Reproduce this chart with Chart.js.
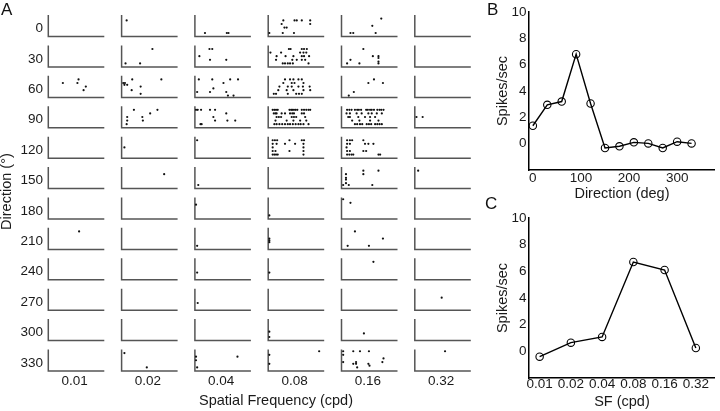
<!DOCTYPE html>
<html>
<head>
<meta charset="utf-8">
<script src="https://cdn.jsdelivr.net/npm/chart.js@4.4.1/dist/chart.umd.min.js"></script>
<style>
  body { margin: 0; background: #fff; width: 720px; height: 411px; position: relative; overflow: hidden;
         font-family: "Liberation Sans", Arial, sans-serif; }
  canvas { position: absolute; }
  .panel { position: absolute; font-size: 17px; line-height: 1; color: #111; }
</style>
</head>
<body>
<canvas id="grid" width="510" height="411" style="left:0;top:0"></canvas>
<canvas id="dir" width="240" height="205" style="left:480px;top:0"></canvas>
<canvas id="sf" width="240" height="206" style="left:480px;top:205px"></canvas>
<div class="panel" style="left:1px;top:1px">A</div>
<div class="panel" style="left:487px;top:1px">B</div>
<div class="panel" style="left:485px;top:195px">C</div>
<script>
// directions (deg) and spatial frequencies (cpd)
const directions = [0, 30, 60, 90, 120, 150, 180, 210, 240, 270, 300, 330];
const sfLabels = ['0.01', '0.02', '0.04', '0.08', '0.16', '0.32'];

// tuning curves (spikes/sec)
const dirRate = [1.36, 2.95, 3.2, 6.8, 3.05, -0.33, -0.2, 0.1, 0.02, -0.33, 0.15, 0.02];
const sfRate = [-0.4, 0.65, 1.08, 6.7, 6.1, 0.25];

// rasters: one list per SF, each spike = [time (ms), trial]
const spikes0 = [[], [[90,9]], [[180,2],[570,2],[600,2]],
  [[20,2],[270,9],[240,7],[290,5],[330,5],[260,2],[460,2],[470,9],[510,9],[600,9],[750,9],[750,7]],
  [[160,2],[210,2],[710,10],[550,6],[610,2]], []];
const spikes30 = [[], [[70,2],[330,2],[550,10]], [[80,6],[260,10],[310,10],[270,4],[560,4]],
  [[40,8],[150,6],[140,4],[230,8],[310,6],[370,10],[400,10],[450,6],[260,2],[300,2],[350,2],[390,2],[440,2],
   [600,10],[640,10],[690,10],[570,8],[630,8],[680,8],[600,6],[640,6],[730,6],[600,4],[660,4],[720,2],[510,4],[430,4]],
  [[100,2],[160,4],[320,2],[390,10],[560,6],[660,6],[660,5],[660,3],[660,2]], []];
const spikes60 = [[[260,8],[520,8],[540,10],[670,6],[630,4]],
  [[30,8],[60,8],[50,7],[100,7],[190,10],[180,4],[340,6],[340,2],[710,10]],
  [[70,10],[40,3],[310,10],[330,5],[270,3],[510,8],[630,10],[770,10],[560,3],[590,1],[690,1]],
  [[300,10],[390,10],[450,10],[540,10],[600,10],[270,8],[420,8],[470,8],[630,8],[200,6],[350,6],[420,6],[540,6],
   [620,6],[740,6],[180,4],[330,4],[450,4],[630,4],[750,4],[100,2],[140,2],[350,2],[500,2],[550,2],[600,2]],
  [[130,1],[220,3],[480,8],[580,10],[740,8]], []];
const spikes90 = [[],
  [[220,10],[100,6],[100,4],[90,2],[370,6],[380,4],[510,8],[640,10]],
  [[20,10],[50,10],[110,10],[270,10],[360,10],[330,6],[360,4],[560,8],[580,4],[720,4],[100,2],[120,2]],
  [[80,10],[110,10],[140,10],[170,10],[380,10],[410,10],[430,10],[460,10],[490,10],[520,10],[600,10],[640,10],[680,10],[720,10],[750,10],
   [100,8],[130,8],[150,8],[240,8],[300,8],[390,8],[430,8],[460,8],[600,8],[640,8],
   [150,6],[190,6],[230,6],[420,6],[460,6],[500,6],[660,6],
   [130,4],[330,4],[450,4],[570,4],[680,4],
   [110,2],[150,2],[200,2],[250,2],[300,2],[350,2],[390,2],[440,2],[490,2],[540,2],[580,2],[630,2],[720,2]],
  [[100,10],[140,10],[180,10],[240,10],[280,10],[310,10],[350,10],[440,10],[470,10],[510,10],[540,10],[580,10],[640,10],[680,10],[710,10],[750,10],
   [90,8],[150,8],[270,8],[360,8],[480,8],[540,8],[630,8],[720,8],
   [120,6],[150,6],[300,6],[420,6],[510,6],[600,6],
   [190,4],[320,4],[510,4],[660,4],
   [240,2],[280,2],[330,2],[370,2],[450,2],[490,2],[530,2],[600,2],[640,2],[680,2],[720,2]],
  [[30,6],[140,6]]];
const spikes120 = [[], [[50,6]], [[40,10]],
  [[80,10],[120,10],[160,10],[380,10],[600,10],[640,10],[80,8],[150,8],[300,8],[480,8],[630,8],[80,6],[630,6],
   [80,4],[130,4],[380,4],[630,4],[80,2],[110,2],[140,2],[170,2],[630,2]],
  [[100,10],[150,10],[190,10],[390,10],[100,8],[150,8],[420,8],[480,8],[570,8],[90,6],
   [100,4],[150,4],[390,4],[440,4],[100,2],[140,2],[180,2],[210,2],[660,2],[690,2]], []];
const spikes150 = [[], [[760,8]], [[60,2]], [],
  [[80,8],[80,6],[80,5],[80,3],[30,2],[130,2],[390,10],[390,8],[660,10],[550,2]], [[60,10]]];
const spikes180 = [[], [], [[20,8]], [[20,2]], [[30,11],[160,9]], []];
const spikes210 = [[[550,10]], [], [[40,2]], [[20,6],[20,5],[20,4]], [[110,2],[240,10],[490,2],[740,6]], []];
const spikes240 = [[], [], [[40,4]], [[20,4]], [[570,10]], []];
const spikes270 = [[], [], [[50,4]], [], [], [[480,7]]];
const spikes300 = [[], [], [], [[20,5],[20,2]], [[400,4]], []];
const spikes330 = [[], [[50,10],[450,2]], [[20,8],[20,6],[40,2],[760,8]], [[20,9],[20,4],[910,11]],
  [[30,11],[30,9],[30,5],[210,11],[330,11],[490,11],[210,4],[260,4],[280,2],[260,5],[480,4],[500,3],[750,7],[730,5]],
  [[540,11]]];

const rasters = [spikes0, spikes30, spikes60, spikes90, spikes120, spikes150,
                 spikes180, spikes210, spikes240, spikes270, spikes300, spikes330];

// geometry of the small raster panels
const SWEEP_MS = 1000, TRIAL_MAX = 12;
const PX_PER_MS = 56 / SWEEP_MS, PX_PER_TRIAL = 22 / TRIAL_MAX;
const COL_PITCH = 73.3 / PX_PER_MS, ROW_PITCH = 31 / PX_PER_TRIAL;
const NROW = directions.length;

const pts = [];
rasters.forEach((row, r) => row.forEach((cell, c) => cell.forEach(([t, k]) => {
  pts.push({ x: c * COL_PITCH + t, y: (NROW - 1 - r) * ROW_PITCH + k });
})));

const txt = '#1a1a1a';
const fam = '"Liberation Sans", Arial, sans-serif';

const cellAxes = {
  id: 'cellAxes',
  beforeDatasetsDraw(chart) {
    const { ctx, scales: { x, y } } = chart;
    ctx.save();
    ctx.strokeStyle = '#555';
    ctx.lineWidth = 1.5;
    for (let r = 0; r < NROW; r++) {
      for (let c = 0; c < sfLabels.length; c++) {
        const base = (NROW - 1 - r) * ROW_PITCH;
        const x0 = x.getPixelForValue(c * COL_PITCH);
        const x1 = x.getPixelForValue(c * COL_PITCH + SWEEP_MS);
        const yb = y.getPixelForValue(base);
        const yt = y.getPixelForValue(base + TRIAL_MAX);
        ctx.beginPath();
        ctx.moveTo(x0, yt);
        ctx.lineTo(x0, yb);
        ctx.lineTo(x1, yb);
        ctx.stroke();
      }
    }
    ctx.restore();
  }
};

new Chart(document.getElementById('grid'), {
  type: 'scatter',
  data: { datasets: [{ data: pts, pointRadius: 1.1, pointBorderWidth: 0, pointBackgroundColor: '#111' }] },
  options: {
    animation: false, responsive: false, devicePixelRatio: 1,
    layout: { padding: { top: 4, right: 4, left: 0, bottom: 0 } },
    plugins: { legend: { display: false }, tooltip: { enabled: false } },
    scales: {
      x: {
        type: 'linear',
        min: -(48.3 - 46) / PX_PER_MS, max: (506 - 48.3) / PX_PER_MS,
        grid: { display: false, drawTicks: false }, border: { display: false },
        afterBuildTicks: s => { s.ticks = sfLabels.map((l, i) => ({ value: i * COL_PITCH + 470 })); },
        ticks: { callback: v => sfLabels[Math.round((v - 470) / COL_PITCH)], autoSkip: false, maxRotation: 0,
                 padding: 1, color: txt, font: { family: fam, size: 13.5 } },
        title: { display: true, text: 'Spatial Frequency (cpd)', color: txt, padding: { top: 0, bottom: 1 },
                 font: { family: fam, size: 14.5 } },
        afterFit: s => { s.height = 39; }
      },
      y: {
        type: 'linear',
        min: -(372 - 371) / PX_PER_TRIAL, max: (371 - 4) / PX_PER_TRIAL,
        grid: { display: false, drawTicks: false }, border: { display: false },
        afterBuildTicks: s => { s.ticks = directions.map((d, r) => ({ value: (NROW - 1 - r) * ROW_PITCH + 4.5 })).reverse(); },
        ticks: { callback: v => directions[NROW - 1 - Math.round((v - 4.5) / ROW_PITCH)], autoSkip: false,
                 padding: 3, color: txt, font: { family: fam, size: 13.5 } },
        title: { display: true, text: 'Direction (°)', color: txt, padding: { top: 0, bottom: 0 },
                 font: { family: fam, size: 14.5, lineHeight: 1 } },
        afterFit: s => { s.width = 46; }
      }
    }
  },
  plugins: [cellAxes]
});

function tuningOptions(xOpts, padTop, xHeight) {
  return {
    animation: false, responsive: false, devicePixelRatio: 1,
    layout: { padding: { top: padTop, right: 1, left: 0, bottom: 0 } },
    plugins: { legend: { display: false }, tooltip: { enabled: false } },
    scales: {
      x: Object.assign({
        type: 'linear',
        grid: { display: false, drawTicks: false },
        border: { display: true, color: '#000', width: 1.5 },
        afterFit: s => { s.height = xHeight; }
      }, xOpts),
      y: {
        type: 'linear', min: -2, max: 10,
        grid: { display: false, drawTicks: false },
        border: { display: true, color: '#000', width: 1.5 },
        afterBuildTicks: s => { s.ticks = [0, 2, 4, 6, 8, 10].map(v => ({ value: v })); },
        ticks: { padding: 2.5, color: txt, font: { family: fam, size: 13.5 } },
        title: { display: true, text: 'Spikes/sec', color: txt, padding: { top: 14, bottom: 0 },
                 font: { family: fam, size: 14.5 } },
        afterFit: s => { s.width = 49; }
      }
    }
  };
}

const lineStyle = {
  borderColor: '#000', borderWidth: 1.4, tension: 0,
  pointRadius: 3.7, pointBorderWidth: 1.1, pointBorderColor: '#000', pointBackgroundColor: 'rgba(0,0,0,0)'
};

new Chart(document.getElementById('dir'), {
  type: 'line',
  data: { datasets: [Object.assign({ data: directions.map((d, i) => ({ x: d, y: dirRate[i] })) }, lineStyle)] },
  options: tuningOptions({
    min: -8, max: 378.5,
    afterBuildTicks: s => { s.ticks = [0, 100, 200, 300].map(v => ({ value: v })); },
    ticks: { padding: 0, color: txt, font: { family: fam, size: 13.5 } },
    title: { display: true, text: 'Direction (deg)', color: txt, padding: { top: 0, bottom: 2.5 },
             font: { family: fam, size: 14.5 } }
  }, 12, 35)
});

new Chart(document.getElementById('sf'), {
  type: 'line',
  data: { datasets: [Object.assign({ data: sfRate.map((v, i) => ({ x: i, y: v })) }, lineStyle)] },
  options: tuningOptions({
    min: -0.34, max: 5.61,
    afterBuildTicks: s => { s.ticks = sfLabels.map((l, i) => ({ value: i })); },
    ticks: { callback: v => sfLabels[Math.round(v)], autoSkip: false, maxRotation: 0, padding: 0,
             color: txt, font: { family: fam, size: 13.5, lineHeight: 1 } },
    title: { display: true, text: 'SF (cpd)', color: txt, padding: { top: 0, bottom: 0 },
             font: { family: fam, size: 14.5 } }
  }, 13, 33)
});
</script>
</body>
</html>
